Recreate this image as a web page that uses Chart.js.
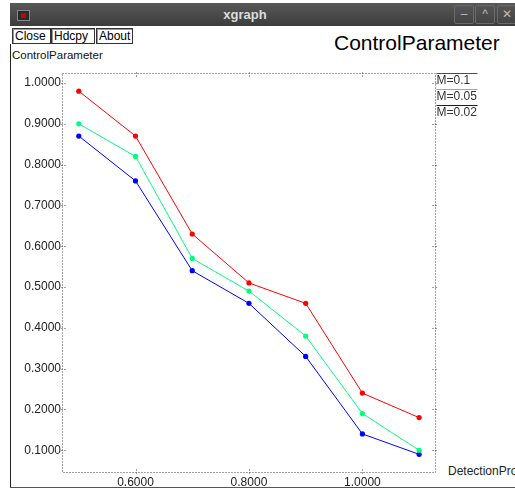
<!DOCTYPE html>
<html>
<head>
<meta charset="utf-8">
<script src="https://cdn.jsdelivr.net/npm/chart.js@4/dist/chart.umd.min.js"></script>
<style>
  html, body { margin:0; padding:0; width:515px; height:489px; overflow:hidden; background:#fff; font-family:"Liberation Sans", Arial, sans-serif; }
  #titlebar { position:absolute; left:10px; top:3px; width:505px; height:23px; background:linear-gradient(#585858,#3c3c3c); }
  #titlebar .t { position:absolute; left:0; width:470px; top:4px; text-align:center; color:#dcdcdc; font-weight:bold; font-size:13px; }
  #icon { position:absolute; left:7px; top:7px; width:11px; height:9px; background:#2a2a2a; border:1px solid #888; }
  #icon:after { content:""; position:absolute; left:3px; top:2px; width:5px; height:5px; background:#c00; }
  .wb { position:absolute; top:2px; width:18px; height:17px; border:1px solid #6a6a6a; border-radius:2px; color:#bbb; font-size:12px; text-align:center; line-height:16px; background:linear-gradient(#555,#444); }
  .btn { position:absolute; top:28px; height:14px; border:1px solid #333; box-shadow: inset 1px 1px 0 #999; font-size:12px; line-height:14px; padding:0 2px; color:#000; background:#fff; }
  #lframe { position:absolute; left:10px; top:44px; width:0; height:443px; border-left:1px solid #222; }
  #bframe { position:absolute; left:10px; top:487px; width:505px; height:0; border-top:1px solid #555; }
  #title { position:absolute; left:334px; top:31px; font-size:21px; color:#000; white-space:nowrap; }
  #ylab { position:absolute; left:12px; top:49px; font-size:11.5px; color:#111; white-space:nowrap; }
  #xlab { position:absolute; left:448px; top:464px; font-size:12px; color:#222; white-space:nowrap; }
  canvas { position:absolute; left:0; top:0; }
</style>
</head>
<body>
<div id="titlebar"><div id="icon"></div><div class="t">xgraph</div>
  <div class="wb" style="left:444px">&#8211;</div>
  <div class="wb" style="left:465px">^</div>
  <div class="wb" style="left:487px">&#10005;</div>
</div>
<div class="btn" style="left:12px;width:33px">Close</div>
<div class="btn" style="left:51px;width:38px">Hdcpy</div>
<div class="btn" style="left:96px;width:31px">About</div>
<div id="lframe"></div>
<div id="bframe"></div>
<div id="title">ControlParameter</div>
<div id="ylab">ControlParameter</div>
<div id="xlab">DetectionProbability</div>
<canvas id="c" width="515" height="489"></canvas>
<script>
const xValues = [0.5, 0.6, 0.7, 0.8, 0.9, 1.0, 1.1];
const seriesLabels = ['M=0.1', 'M=0.05', 'M=0.02'];
const seriesM01 = [0.98, 0.87, 0.63, 0.51, 0.46, 0.24, 0.18];
const seriesM005 = [0.90, 0.82, 0.57, 0.49, 0.38, 0.19, 0.10];
const seriesM002 = [0.87, 0.76, 0.54, 0.46, 0.33, 0.14, 0.09];
const xTickValues = [0.6, 0.8, 1.0];
const yTickValues = [0.1, 0.2, 0.3, 0.4, 0.5, 0.6, 0.7, 0.8, 0.9, 1.0];

const colors = ['#ff0000', '#00ff80', '#0000ff'];
const allSeries = [seriesM01, seriesM005, seriesM002];

const datasets = allSeries.map((s, i) => ({
  label: seriesLabels[i],
  data: xValues.map((x, j) => ({ x: x, y: s[j] })),
  borderColor: colors[i],
  backgroundColor: colors[i],
  borderWidth: 1,
  pointRadius: 2.6,
  pointBorderWidth: 0,
  tension: 0,
  fill: false
}));

const framePlugin = {
  id: 'frame',
  afterDraw(chart) {
    const ctx = chart.ctx, a = chart.chartArea;
    const xs = chart.scales.x, ys = chart.scales.y;
    ctx.save();
    ctx.strokeStyle = '#444';
    ctx.lineWidth = 1;
    ctx.setLineDash([1, 2]);
    const L = Math.round(a.left) + 0.5, R = Math.round(a.right) + 0.5, T = Math.round(a.top) + 0.5, B = Math.round(a.bottom) + 0.5;
    ctx.beginPath();
    ctx.moveTo(L, T); ctx.lineTo(R, T); ctx.lineTo(R, B); ctx.lineTo(L, B); ctx.closePath();
    ctx.stroke();
    ctx.beginPath();
    yTickValues.forEach(v => {
      const y = Math.round(ys.getPixelForValue(v)) + 0.5;
      ctx.moveTo(L - 1, y); ctx.lineTo(L + 3, y);
      ctx.moveTo(R - 3, y); ctx.lineTo(R + 1, y);
    });
    xTickValues.forEach(v => {
      const x = Math.round(xs.getPixelForValue(v)) + 0.5;
      ctx.moveTo(x, B + 1); ctx.lineTo(x, B - 3);
      ctx.moveTo(x, T - 1); ctx.lineTo(x, T + 3);
    });
    ctx.stroke();
    ctx.setLineDash([]);
    // legend
    ctx.font = '12px "Liberation Sans", Arial, sans-serif';
    ctx.textBaseline = 'alphabetic';
    ctx.textAlign = 'left';
    chart.data.datasets.forEach((ds, i) => {
      const y = Math.round(a.top) + i * 16 + 0.5;
      ctx.strokeStyle = ds.borderColor;
      ctx.beginPath(); ctx.moveTo(R + 1, y); ctx.lineTo(R + 42, y); ctx.stroke();
      ctx.fillStyle = '#333';
      ctx.fillText(ds.label, R + 1, y + 10);
    });
    ctx.restore();
  }
};

new Chart(document.getElementById('c'), {
  type: 'line',
  data: { datasets: datasets },
  options: {
    responsive: false,
    devicePixelRatio: 1,
    animation: false,
    layout: { padding: { top: 73, right: 80, left: 0, bottom: 0 } },
    plugins: { legend: { display: false }, tooltip: { enabled: false }, title: { display: false } },
    scales: {
      x: {
        type: 'linear', position: 'bottom', min: 0.4704, max: 1.128,
        grid: { display: false, drawTicks: false }, border: { display: false },
        afterBuildTicks: s => { s.ticks = xTickValues.map(v => ({ value: v })); },
        afterFit: s => { s.height = 17; },
        ticks: { color: '#222', padding: 3, font: { size: 12, family: '"Liberation Sans", Arial, sans-serif' }, callback: v => Number(v).toFixed(4), maxRotation: 0 }
      },
      y: {
        type: 'linear', position: 'left', min: 0.0467, max: 1.0245,
        grid: { display: false, drawTicks: false }, border: { display: false },
        afterBuildTicks: s => { s.ticks = yTickValues.map(v => ({ value: v })); },
        afterFit: s => { s.width = 62; },
        ticks: { color: '#222', padding: 1, font: { size: 12, family: '"Liberation Sans", Arial, sans-serif' }, callback: v => Number(v).toFixed(4) }
      }
    }
  },
  plugins: [framePlugin]
});
</script>
</body>
</html>
